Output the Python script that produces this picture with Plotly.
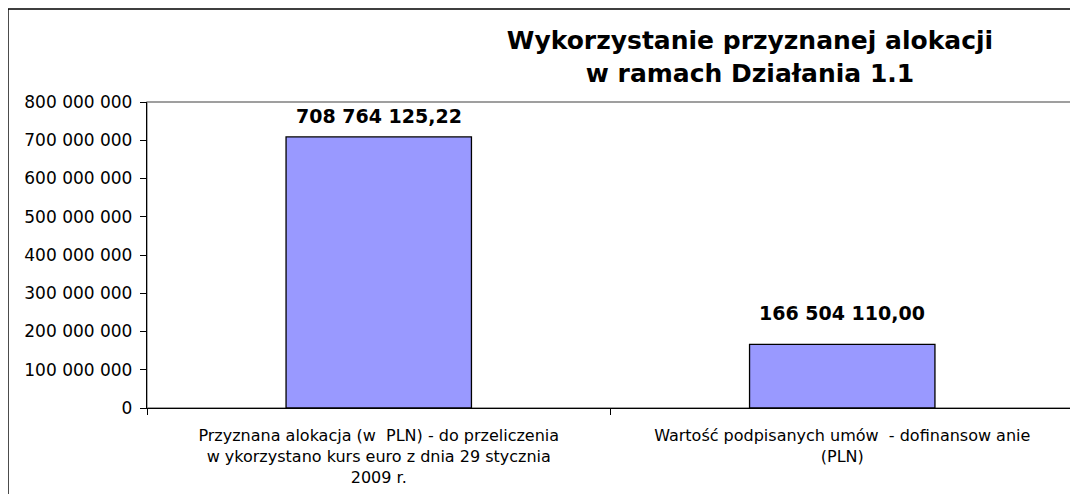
import plotly.graph_objects as go

categories = [
    "Przyznana alokacja (w  PLN) - do przeliczenia<br>w ykorzystano kurs euro z dnia 29 stycznia<br>2009 r.",
    "Wartość podpisanych umów  - dofinansow anie<br>(PLN)",
]
values = [708764125.22, 166504110.00]
value_labels = ["708 764 125,22", "166 504 110,00"]
y_tickvals = [0, 100e6, 200e6, 300e6, 400e6, 500e6, 600e6, 700e6, 800e6]
y_ticktext = ["0", "100 000 000", "200 000 000", "300 000 000", "400 000 000",
              "500 000 000", "600 000 000", "700 000 000", "800 000 000"]
title_text = "Wykorzystanie przyznanej alokacji<br>w ramach Działania 1.1"

FONT = "DejaVu Sans"
label_shifts = [21, 31]  # pixel offset of each value label above its bar

fig = go.Figure()
fig.add_trace(go.Bar(
    x=categories, y=values, width=0.4,
    marker=dict(color="#9999FF", line=dict(color="black", width=1.3)),
    hoverinfo="skip",
))

for c, v, t, s in zip(categories, values, value_labels, label_shifts):
    fig.add_annotation(x=c, y=v, text="<b>%s</b>" % t, showarrow=False,
                       yanchor="middle", yshift=s,
                       font=dict(family=FONT, size=19, color="black"))

# page body has an 8px margin; figure sized to fill the rest of the window
fig.update_layout(
    width=1070, height=486,
    margin=dict(l=139, r=4, t=94, b=86),
    paper_bgcolor="white", plot_bgcolor="white",
    showlegend=False,
    title=dict(text="<b>%s</b>" % title_text, x=742 / 1070, xanchor="center",
               xref="container", y=1 - 41 / 486, yanchor="top", yref="container",
               font=dict(family=FONT, size=25, color="black")),
    xaxis=dict(showline=True, linecolor="black", linewidth=1.3,
               ticks="outside", ticklen=6, tickcolor="black", tickson="boundaries",
               ticklabelstandoff=13,
               tickfont=dict(family=FONT, size=16, color="black"),
               showgrid=False, zeroline=False),
    yaxis=dict(range=[0, 800e6], showline=True, linecolor="black", linewidth=1.3,
               ticks="outside", ticklen=6, tickcolor="black",
               ticklabelstandoff=4,
               tickvals=y_tickvals, ticktext=y_ticktext,
               tickfont=dict(family=FONT, size=17, color="black"),
               showgrid=False, zeroline=False),
    shapes=[
        dict(type="rect", xref="paper", yref="paper", x0=0, x1=1, y0=0, y1=1,
             line=dict(color="#808080", width=1.3), layer="below"),
        dict(type="rect", xref="paper", yref="paper", x0=-0.15, x1=1.1, y0=-0.4, y1=1.304,
             line=dict(color="black", width=1.5), layer="below"),
    ],
)

fig.write_html("out.html")
